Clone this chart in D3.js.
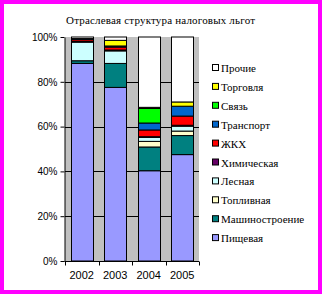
<!DOCTYPE html>
<html>
<head>
<meta charset="utf-8">
<script src="https://cdn.jsdelivr.net/npm/d3@7"></script>
<style>
  html, body { margin: 0; padding: 0; background: #fff; }
  svg { display: block; }
</style>
</head>
<body>
<svg id="chart" width="322" height="294"></svg>
<script>
// --- données ---
const years = ["2002", "2003", "2004", "2005"];
const sectors = ["Пищевая", "Машиностроение", "Топливная", "Лесная", "Химическая",
                 "ЖКХ", "Транспорт", "Связь", "Торговля", "Прочие"];
const colors = ["#9999ff", "#008080", "#ffffcc", "#ccffff", "#660066",
                "#ff0000", "#0066cc", "#00ff00", "#ffff00", "#ffffff"];
// une ligne par secteur, une valeur (%) par année
const pishchevaya   = [88.2, 77.5, 40.3, 47.5];
const mashinostr    = [1.2, 10.7, 10.6, 8.5];
const toplivnaya    = [0.0, 0.0, 2.5, 2.0];
const lesnaya       = [8.3, 5.6, 1.8, 2.2];
const khimicheskaya = [0.3, 0.4, 0.3, 0.4];
const zhkkh         = [0.8, 1.3, 3.0, 4.1];
const transport     = [0.5, 0.5, 3.1, 4.4];
const svyaz         = [0.0, 0.0, 6.5, 0.0];
const torgovlya     = [0.0, 2.5, 0.5, 1.9];
const prochie       = [0.7, 1.5, 31.4, 29.0];
const yTicks = [0, 20, 40, 60, 80, 100];
const title = "Отраслевая структура налоговых льгот";

const series = [pishchevaya, mashinostr, toplivnaya, lesnaya, khimicheskaya,
                zhkkh, transport, svyaz, torgovlya, prochie];

const svg = d3.select("#chart");
const W = 322, H = 294;

// cadre magenta
svg.append("rect").attr("width", W).attr("height", H).attr("fill", "#ff00ff");
svg.append("rect").attr("x", 4).attr("y", 4).attr("width", W - 8).attr("height", H - 8).attr("fill", "#fff");

// titre
svg.append("text")
    .attr("x", 160.5).attr("y", 24)
    .attr("text-anchor", "middle")
    .attr("font-family", "Liberation Serif, Times New Roman, serif")
    .attr("font-size", 11)
    .attr("textLength", 189)
    .text(title);

// échelles
const x = d3.scaleBand().domain(years).range([65, 199]).paddingInner(0.34).paddingOuter(0.17);
const y = d3.scaleLinear().domain([0, 100]).range([261, 37]);

// zone grise
svg.append("rect")
    .attr("x", 65).attr("y", 37).attr("width", 134).attr("height", 224)
    .attr("fill", "#c0c0c0");

// grille
svg.append("g").selectAll("line")
    .data(yTicks.filter(d => d > 0 && d < 100))
    .enter().append("line")
    .attr("x1", 65).attr("x2", 199)
    .attr("y1", d => Math.round(y(d)) + 0.5).attr("y2", d => Math.round(y(d)) + 0.5)
    .attr("stroke", "#000");

// empilement
const table = years.map((yr, i) => {
    const o = {year: yr};
    sectors.forEach((s, k) => o[s] = series[k][i]);
    return o;
});
const stacked = d3.stack().keys(sectors)(table);

svg.append("g").selectAll("g")
    .data(stacked)
    .enter().append("g")
    .attr("fill", (d, k) => colors[k])
    .selectAll("rect")
    .data(d => d.filter(p => p[1] - p[0] > 0))
    .enter().append("rect")
    .attr("x", d => Math.round(x(d.data.year)) + 0.5)
    .attr("width", Math.round(x.bandwidth()))
    .attr("y", d => y(d[1]))
    .attr("height", d => y(d[0]) - y(d[1]))
    .attr("stroke", "#000")
    .attr("stroke-width", 1);

// axes
const yAxis = svg.append("g")
    .attr("transform", "translate(64.5,0)")
    .call(d3.axisLeft(y).tickValues(yTicks).tickFormat(d => d + "%").tickSize(4).tickSizeOuter(0));
yAxis.selectAll("text").attr("font-family", "Liberation Sans, Arial, sans-serif").attr("font-size", 10).attr("fill", "#000").attr("x", -7);
yAxis.selectAll("line, path").attr("stroke", "#000");

const xAxis = svg.append("g")
    .attr("transform", "translate(0,261.5)");
xAxis.append("line").attr("x1", 64.5).attr("x2", 199).attr("stroke", "#000");
xAxis.selectAll("line.tk")
    .data(d3.range(years.length + 1))
    .enter().append("line")
    .attr("class", "tk")
    .attr("x1", i => Math.round(65 + i * x.step()) + 0.5)
    .attr("x2", i => Math.round(65 + i * x.step()) + 0.5)
    .attr("y1", 0).attr("y2", 4)
    .attr("stroke", "#000");
xAxis.selectAll("text")
    .data(years)
    .enter().append("text")
    .attr("x", d => x(d) + x.bandwidth() / 2)
    .attr("y", 17)
    .attr("text-anchor", "middle")
    .attr("font-family", "Liberation Sans, Arial, sans-serif")
    .attr("font-size", 11)
    .text(d => d);

// légende (de haut en bas : Прочие ... Пищевая)
const legend = svg.append("g");
const order = d3.range(sectors.length).reverse();
const leg = legend.selectAll("g")
    .data(order)
    .enter().append("g")
    .attr("transform", (k, i) => `translate(212,${69 + i * 18.9})`);
leg.append("rect")
    .attr("x", 0.5).attr("y", -4.5)
    .attr("width", 6).attr("height", 6)
    .attr("fill", k => colors[k])
    .attr("stroke", "#000");
leg.append("text")
    .attr("x", 9).attr("y", 3)
    .attr("font-family", "Liberation Serif, Times New Roman, serif")
    .attr("font-size", 11)
    .text(k => sectors[k]);
</script>
</body>
</html>
